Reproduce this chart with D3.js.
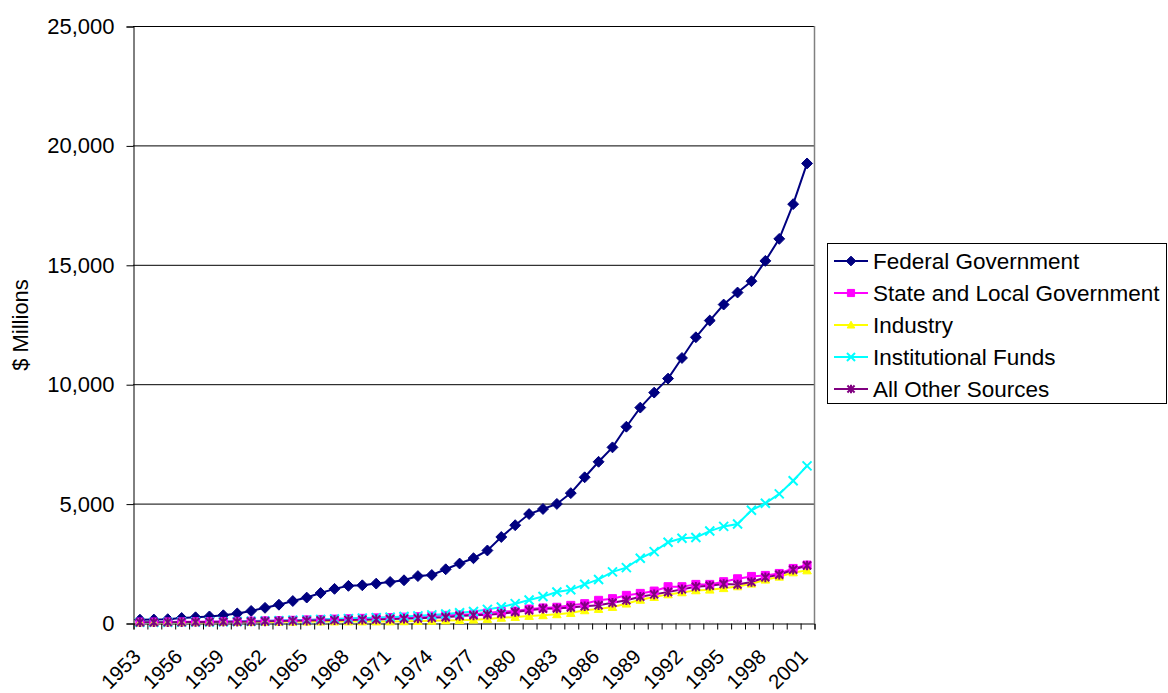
<!DOCTYPE html>
<html><head><meta charset="utf-8">
<script src="https://cdn.jsdelivr.net/npm/d3@7"></script>
<style>
body{margin:0;background:#fff;}
text{font-family:Arial,"Liberation Sans",sans-serif;fill:#000;}
</style>
</head><body>
<svg id="chart" width="1168" height="693"></svg>
<script>
const years = [1953,1954,1955,1956,1957,1958,1959,1960,1961,1962,1963,1964,1965,1966,1967,1968,1969,1970,1971,1972,1973,1974,1975,1976,1977,1978,1979,1980,1981,1982,1983,1984,1985,1986,1987,1988,1989,1990,1991,1992,1993,1994,1995,1996,1997,1998,1999,2000,2001];
const tickLabels = ["1953","1956","1959","1962","1965","1968","1971","1974","1977","1980","1983","1986","1989","1992","1995","1998","2001"];
const yTicks = [0,5000,10000,15000,20000,25000];
const seriesNames = ["Federal Government","State and Local Government","Industry","Institutional Funds","All Other Sources"];

const federal = [140,145,160,210,240,275,325,400,505,635,765,920,1065,1255,1430,1555,1580,1650,1720,1790,1965,2010,2250,2490,2712,3037,3602,4096,4562,4774,4986,5438,6102,6751,7355,8220,9020,9648,10235,11098,11966,12665,13336,13839,14313,15164,16086,17540,19245];
const stateLocal = [40,42,45,50,55,60,65,70,80,90,100,115,130,150,165,180,195,215,230,245,265,290,320,345,370,418,480,502,586,630,660,739,810,950,1020,1158,1240,1338,1520,1520,1617,1617,1730,1853,1950,1993,2075,2285,2425];
const industry = [20,22,25,28,30,33,37,40,42,45,48,50,55,58,60,62,63,62,65,70,80,90,105,120,139,167,215,251,293,321,363,418,530,586,669,809,970,1087,1198,1282,1366,1394,1456,1533,1645,1812,1937,2118,2200];
const institutional = [25,27,30,35,40,45,52,60,70,85,100,115,130,145,165,185,205,225,245,270,300,340,380,430,480,570,670,810,960,1110,1300,1390,1620,1825,2140,2320,2710,2990,3380,3548,3583,3850,4045,4145,4720,5014,5407,5955,6580];
const otherSources = [30,32,35,38,42,46,50,55,62,70,80,90,100,110,120,130,140,150,165,180,195,215,240,290,321,349,391,460,530,600,610,650,700,745,850,950,1100,1199,1296,1408,1519,1561,1631,1610,1714,1910,2020,2230,2405];

const colors = ["#000080","#FF00FF","#FFFF00","#00FFFF","#800080"];

(function(){
const svg = d3.select("#chart");
const pL = 133, pR = 814, pT = 26, pB = 623;
const FONT = "Arial, 'Liberation Sans', sans-serif";

const x = d3.scaleBand().domain(years).range([pL, pR]);
const cx = d => x(d) + x.bandwidth()/2;
const y = d3.scaleLinear().domain([0, 25000]).range([pB, pT]);

const diamond = {draw(ctx, size){ const r = Math.sqrt(size)/2*1.3; ctx.moveTo(0,-r); ctx.lineTo(r,0); ctx.lineTo(0,r); ctx.lineTo(-r,0); ctx.closePath(); }};
const square = {draw(ctx, size){ const r = Math.sqrt(size)/2; ctx.rect(-r,-r,2*r,2*r); }};
const triangle = {draw(ctx, size){ const r = Math.sqrt(size)/2; ctx.moveTo(0,-r); ctx.lineTo(r,r*0.8); ctx.lineTo(-r,r*0.8); ctx.closePath(); }};
const cross = {draw(ctx, size){ const r = Math.sqrt(size)/2; ctx.moveTo(-r,-r); ctx.lineTo(r,r); ctx.moveTo(r,-r); ctx.lineTo(-r,r); }};
const star = {draw(ctx, size){ const r = Math.sqrt(size)/2; ctx.moveTo(-r,-r); ctx.lineTo(r,r); ctx.moveTo(r,-r); ctx.lineTo(-r,r); ctx.moveTo(0,-r*1.2); ctx.lineTo(0,r*1.2); }};

const series = [
  {name: seriesNames[0], values: federal, color: colors[0], sym: diamond, size: 70, filled: true},
  {name: seriesNames[1], values: stateLocal, color: colors[1], sym: square, size: 64, filled: true},
  {name: seriesNames[2], values: industry, color: colors[2], sym: triangle, size: 72, filled: true},
  {name: seriesNames[3], values: institutional, color: colors[3], sym: cross, size: 81, filled: false},
  {name: seriesNames[4], values: otherSources, color: colors[4], sym: star, size: 64, filled: false}
];

svg.append("g").selectAll("line").data(yTicks.filter(v => v > 0)).join("line")
  .attr("x1", pL).attr("x2", pR)
  .attr("y1", d => y(d) + 0.5).attr("y2", d => y(d) + 0.5)
  .attr("stroke", "#000").attr("stroke-width", 1);

svg.append("line").attr("x1", pR + 0.5).attr("x2", pR + 0.5).attr("y1", pT).attr("y2", pB)
  .attr("stroke", "#808080").attr("stroke-width", 1.5);

const yAxis = d3.axisLeft(y).tickValues(yTicks).tickSize(7).tickPadding(12).tickFormat(d3.format(","));
const gy = svg.append("g").attr("transform", `translate(${pL + 0.5},0.5)`).call(yAxis);
gy.select(".domain").attr("stroke", "#000");
gy.selectAll(".tick line").attr("stroke", "#000");
gy.selectAll("text").style("font-size", "22px").attr("fill", "#000").style("font-family", FONT);

const boundaries = years.map(d => x(d)).concat([pR]);
const xLin = d3.scaleLinear().domain([pL, pR]).range([pL, pR]);
const xAxisTicks = d3.axisBottom(xLin).tickValues(boundaries).tickSize(6).tickFormat("");
const gx = svg.append("g").attr("transform", `translate(0.5,${pB + 0.5})`).call(xAxisTicks);
gx.select(".domain").attr("stroke", "#000");
gx.selectAll(".tick line").attr("stroke", "#000");

const xLab = d3.axisBottom(x).tickValues(tickLabels.map(Number)).tickSize(0).tickFormat(d => String(d));
const gxl = svg.append("g").attr("transform", `translate(0,${pB})`).call(xLab);
gxl.select(".domain").remove();
gxl.selectAll("text")
  .style("font-size", "20.5px").style("font-family", FONT)
  .attr("fill", "#000")
  .attr("text-anchor", "end")
  .attr("y", 0).attr("dy", "0")
  .attr("transform", "translate(2,35) rotate(-45)");

svg.append("text").attr("transform", "translate(28,325) rotate(-90)")
  .attr("text-anchor", "middle").style("font-size", "22px").text("$ Millions");

const line = d3.line().x((d, i) => cx(years[i])).y(d => y(d));
series.forEach(s => {
  svg.append("path").datum(s.values).attr("d", line)
    .attr("fill", "none").attr("stroke", s.color).attr("stroke-width", 2);
});
series.forEach(s => {
  const sym = d3.symbol().type(s.sym).size(s.size);
  svg.append("g").selectAll("path").data(s.values).join("path")
    .attr("d", sym)
    .attr("transform", (d, i) => `translate(${cx(years[i])},${y(d)})`)
    .attr("fill", s.filled ? s.color : "none")
    .attr("stroke", s.color).attr("stroke-width", s.filled ? 1 : 2);
});

const lg = svg.append("g");
lg.append("rect").attr("x", 827.5).attr("y", 243.5).attr("width", 339).attr("height", 160)
  .attr("fill", "#fff").attr("stroke", "#000").attr("stroke-width", 1);
const ly = d3.scalePoint().domain(seriesNames).range([261, 389]);
series.forEach(s => {
  const g = lg.append("g").attr("transform", `translate(0,${ly(s.name)})`);
  g.append("line").attr("x1", 834).attr("x2", 868).attr("y1", 0).attr("y2", 0)
    .attr("stroke", s.color).attr("stroke-width", 2);
  g.append("path").attr("d", d3.symbol().type(s.sym).size(s.size * 0.8)())
    .attr("transform", "translate(851,0)")
    .attr("fill", s.filled ? s.color : "none").attr("stroke", s.color).attr("stroke-width", s.filled ? 1 : 2);
  g.append("text").attr("x", 873).attr("y", 0).attr("dy", "0.36em")
    .style("font-size", "22.5px").text(s.name);
});
})();
</script>
</body></html>
